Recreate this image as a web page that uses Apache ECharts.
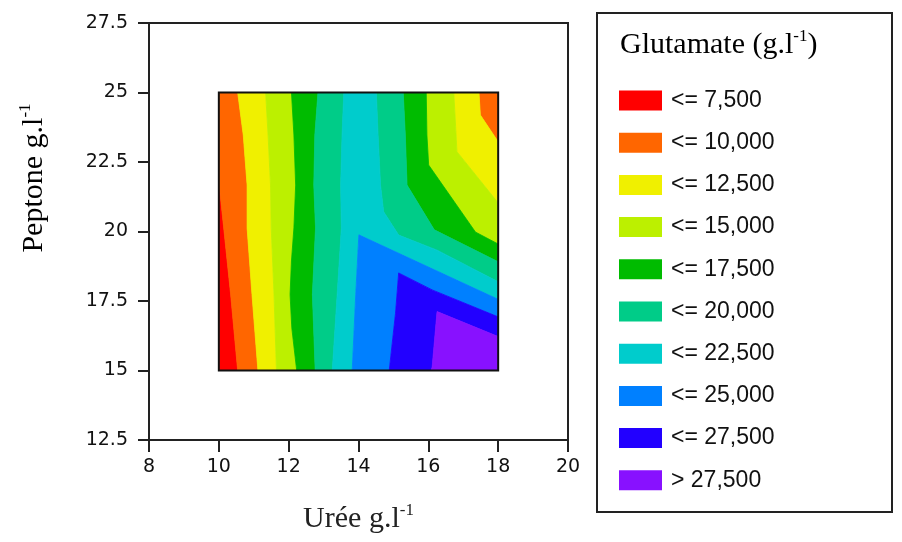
<!DOCTYPE html>
<html>
<head>
<meta charset="utf-8">
<script src="https://cdn.jsdelivr.net/npm/echarts@6/dist/echarts.min.js"></script>
<style>
  html, body { margin: 0; padding: 0; background: #fff; }
  #chart { width: 902px; height: 542px; }
</style>
</head>
<body>
<div id="chart"></div>
<script>
// Glutamate production (g/l) as a function of urea and peptone concentrations.

const xTicks = [8, 10, 12, 14, 16, 18, 20];
const yTicks = [12.5, 15, 17.5, 20, 22.5, 25, 27.5];

const bandLabels = ['<= 7,500', '<= 10,000', '<= 12,500', '<= 15,000', '<= 17,500',
                    '<= 20,000', '<= 22,500', '<= 25,000', '<= 27,500', '> 27,500'];
const bandColors = ['#ff0000', '#ff6600', '#f0f000', '#bcf000', '#00bb00',
                    '#00cc88', '#00cccc', '#0080ff', '#2200ff', '#8811ff'];

// Filled contour regions of each band, vertices as [urea, peptone]
const band7500 = [
  [[10, 21.8], [10.14, 20.13], [10.34, 17.72], [10.54, 15], [10, 15]]
];
const band10000 = [
  [[10, 25], [10.54, 25], [10.70, 23.47], [10.81, 21.67], [10.81, 20.13], [10.95, 17.73], [11.12, 15],
   [10.54, 15], [10.34, 17.72], [10.14, 20.13], [10, 21.8]],
  [[17.45, 25], [18, 25], [18, 23.23], [17.49, 24.19]]
];
const band12500 = [
  [[10.54, 25], [11.34, 25], [11.41, 23.47], [11.48, 21.67], [11.50, 20.13], [11.58, 17.73], [11.65, 15],
   [11.12, 15], [10.95, 17.73], [10.81, 20.13], [10.81, 21.67], [10.70, 23.47]],
  [[16.73, 25], [17.45, 25], [17.49, 24.19], [18, 23.23], [18, 21.03], [16.82, 22.87]]
];
const band15000 = [
  [[11.34, 25], [12.08, 25], [12.15, 23.47], [12.20, 21.67], [12.15, 20.13], [12.08, 18.94], [12.04, 17.73],
   [12.09, 16.53], [12.23, 15], [11.65, 15], [11.58, 17.73], [11.50, 20.13], [11.48, 21.67], [11.41, 23.47]],
  [[15.94, 25], [16.73, 25], [16.82, 22.87], [18, 21.03], [18, 19.55], [17.35, 19.98], [16.01, 22.39], [15.96, 23.47]]
];
const band17500 = [
  [[12.08, 25], [12.84, 25], [12.75, 23.47], [12.72, 21.67], [12.77, 20.13], [12.68, 17.73], [12.76, 15],
   [12.23, 15], [12.09, 16.53], [12.04, 17.73], [12.08, 18.94], [12.15, 20.13], [12.20, 21.67], [12.15, 23.47]],
  [[15.28, 25], [15.94, 25], [15.96, 23.47], [16.01, 22.39], [17.35, 19.98], [18, 19.55], [18, 18.91],
   [16.17, 20.06], [15.39, 21.67], [15.34, 23.47]]
];
const band20000 = [
  [[12.84, 25], [13.58, 25], [13.53, 23.47], [13.49, 21.67], [13.51, 20.13], [13.39, 17.73], [13.25, 15],
   [12.76, 15], [12.68, 17.73], [12.77, 20.13], [12.72, 21.67], [12.75, 23.47]],
  [[14.51, 25], [15.28, 25], [15.34, 23.47], [15.39, 21.67], [16.17, 20.06], [18, 18.91], [18, 18.19],
   [16.25, 19.33], [15.15, 19.87], [14.72, 20.71], [14.63, 21.67], [14.56, 23.47]]
];
const band22500 = [
  [[13.58, 25], [14.51, 25], [14.56, 23.47], [14.63, 21.67], [14.72, 20.71], [15.15, 19.87], [16.25, 19.33],
   [18, 18.19], [18, 17.56], [14.01, 19.88], [13.92, 17.72], [13.82, 15], [13.25, 15], [13.39, 17.73],
   [13.51, 20.13], [13.49, 21.67], [13.53, 23.47]]
];
const band25000 = [
  [[14.01, 19.88], [18, 17.56], [18, 16.93], [16.11, 17.90], [15.15, 18.51], [15.06, 17.06], [14.88, 15],
   [13.82, 15], [13.92, 17.72]]
];
const band27500 = [
  [[15.15, 18.51], [16.11, 17.90], [18, 16.93], [18, 16.22], [16.25, 17.12], [16.11, 15.13], [16.08, 15],
   [14.88, 15], [15.06, 17.06]]
];
const bandAbove = [
  [[16.25, 17.12], [18, 16.22], [18, 15], [16.08, 15], [16.11, 15.13]]
];

// Experimental domain covered by the surface
const domainUrea = [10, 18];
const domainPeptone = [15, 25];

const bands = [band7500, band10000, band12500, band15000, band17500,
               band20000, band22500, band25000, band27500, bandAbove];

const chart = echarts.init(document.getElementById('chart'), null, { renderer: 'canvas' });

const bandSeries = bands.map((polys, b) => ({
  type: 'custom',
  name: bandLabels[b],
  coordinateSystem: 'cartesian2d',
  silent: true,
  animation: false,
  itemStyle: { color: bandColors[b] },
  data: polys.map(p => p[0]),
  renderItem: (params, api) => {
    const pts = polys[params.dataIndex].map(pt => api.coord(pt));
    return {
      type: 'polygon',
      shape: { points: pts },
      style: { fill: bandColors[b], stroke: bandColors[b], lineWidth: 0.8 }
    };
  }
}));

const frameSeries = {
  type: 'custom',
  name: 'domain',
  coordinateSystem: 'cartesian2d',
  silent: true,
  animation: false,
  z: 5,
  data: [[domainUrea[0], domainPeptone[0], domainUrea[1], domainPeptone[1]]],
  renderItem: (params, api) => {
    const p0 = api.coord([api.value(0), api.value(3)]);
    const p1 = api.coord([api.value(2), api.value(1)]);
    return {
      type: 'rect',
      shape: { x: p0[0], y: p0[1], width: p1[0] - p0[0], height: p1[1] - p0[1] },
      style: { fill: null, stroke: '#111', lineWidth: 2 }
    };
  }
};

const serifRich = {
  m: { fontFamily: 'Liberation Serif', fontSize: 30, color: '#222', lineHeight: 32, verticalAlign: 'bottom' },
  s: { fontFamily: 'Liberation Serif', fontSize: 17, color: '#222', lineHeight: 17, verticalAlign: 'top' }
};

chart.setOption({
  backgroundColor: '#fff',
  animation: false,
  grid: {
    left: 149, top: 23, width: 419, height: 417,
    show: true, borderColor: '#222', borderWidth: 2, backgroundColor: 'transparent'
  },
  xAxis: {
    type: 'value',
    min: xTicks[0], max: xTicks[xTicks.length - 1], interval: xTicks[1] - xTicks[0],
    axisLine: { show: true, onZero: false, lineStyle: { color: '#222', width: 2 } },
    axisTick: { show: true, length: 12, lineStyle: { color: '#222', width: 2 } },
    axisLabel: { fontFamily: 'DejaVu Sans', fontSize: 19, color: '#111', margin: 18,
                 showMinLabel: true, showMaxLabel: true },
    splitLine: { show: false },
    name: '{m|Urée g.l}{s|-1}',
    nameLocation: 'middle',
    nameGap: 62,
    nameTextStyle: { rich: serifRich }
  },
  yAxis: {
    type: 'value',
    min: yTicks[0], max: yTicks[yTicks.length - 1], interval: yTicks[1] - yTicks[0],
    axisLine: { show: true, onZero: false, lineStyle: { color: '#222', width: 2 } },
    axisTick: { show: true, length: 11, lineStyle: { color: '#222', width: 2 } },
    axisLabel: { fontFamily: 'DejaVu Sans', fontSize: 19, color: '#111', margin: 21,
                 showMinLabel: true, showMaxLabel: true },
    splitLine: { show: false }
  },
  legend: {
    data: bandLabels,
    orient: 'vertical',
    left: 619, top: 89,
    itemWidth: 43, itemHeight: 20, itemGap: 19.2,
    icon: 'rect',
    selectedMode: false,
    padding: 0,
    textStyle: { fontFamily: 'Liberation Sans', fontSize: 23, color: '#111', lineHeight: 20, padding: [0, 0, 0, 4] }
  },
  graphic: [
    {
      type: 'rect', silent: true,
      shape: { x: 597, y: 13, width: 295, height: 499 },
      style: { fill: null, stroke: '#222', lineWidth: 2 }
    },
    {
      type: 'text', silent: true, x: 620, y: 44,
      style: { text: '{m|Glutamate (g.l}{s|-1}{m|)}', rich: serifRich, align: 'left', verticalAlign: 'middle' }
    },
    {
      type: 'text', silent: true, x: 33, y: 178, rotation: Math.PI / 2,
      style: { text: '{m|Peptone g.l}{s|-1}', rich: serifRich, align: 'center', verticalAlign: 'middle' }
    }
  ],
  series: bandSeries.concat([frameSeries])
});
</script>
</body>
</html>
